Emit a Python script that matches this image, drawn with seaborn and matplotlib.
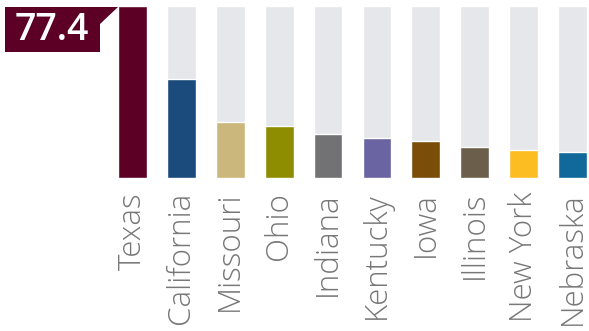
import matplotlib
matplotlib.use("Agg")
import matplotlib.pyplot as plt
import seaborn as sns
import pandas as pd
from matplotlib.patches import Polygon

states = ["Texas", "California", "Missouri", "Ohio", "Indiana",
          "Kentucky", "Iowa", "Illinois", "New York", "Nebraska"]
values = [77.4, 44.4, 25.2, 23.3, 19.9, 18.1, 16.5, 14.0, 12.7, 11.5]
colors = ["#5c0026", "#1b4a7c", "#cbb77c", "#8e8c00", "#727275",
          "#6a64a2", "#7a4e08", "#6b5f4c", "#fcbd23", "#10699a"]
highlight_label = "77.4"

sns.set_theme(style="white")
plt.rcParams["font.family"] = ["Open Sans", "DejaVu Sans"]

W, H = 589, 331
fig = plt.figure(figsize=(W / 100, H / 100), dpi=100)

left_px, bottom_px, top_px = 108, 178, 6
ax = fig.add_axes([left_px / W, (H - bottom_px) / H, (W - left_px) / W, (bottom_px - top_px) / H])

df = pd.DataFrame({"state": states, "value": values})
vmax = max(values)
bg = pd.DataFrame({"state": states, "value": [vmax] * len(states)})

sns.barplot(data=bg, x="state", y="value", color="#e5e7ea", width=0.59,
            saturation=1, ax=ax, order=states)
sns.barplot(data=df, x="state", y="value", hue="state", palette=colors,
            width=0.59, saturation=1, legend=False, ax=ax, order=states)

ax.set_ylim(0, vmax)
ax.set_xlim(-0.5, -0.5 + (W - left_px) / 48.9)
for s in ax.spines.values():
    s.set_visible(False)
ax.set_yticks([])
ax.set_xlabel("")
ax.set_ylabel("")
ax.set_xticks(range(len(states)))
ax.set_xticklabels(states, rotation=90, ha="center", va="top",
                   fontsize=22.5, color="#777777", fontweight="light")
ax.tick_params(axis="x", length=0, pad=10)

# Value callout box for the top bar
pts = [(5, 7), (118, 7), (100, 24), (100, 52), (5, 52)]
poly = Polygon([(x / W, 1 - y / H) for x, y in pts], closed=True,
               transform=fig.transFigure, facecolor=colors[0], edgecolor="none")
fig.patches.append(poly)
fig.text(52 / W, 1 - 30 / H, highlight_label, ha="center", va="center",
         fontsize=27, color="white", fontweight="semibold")

fig.savefig("out.png", dpi=100)
